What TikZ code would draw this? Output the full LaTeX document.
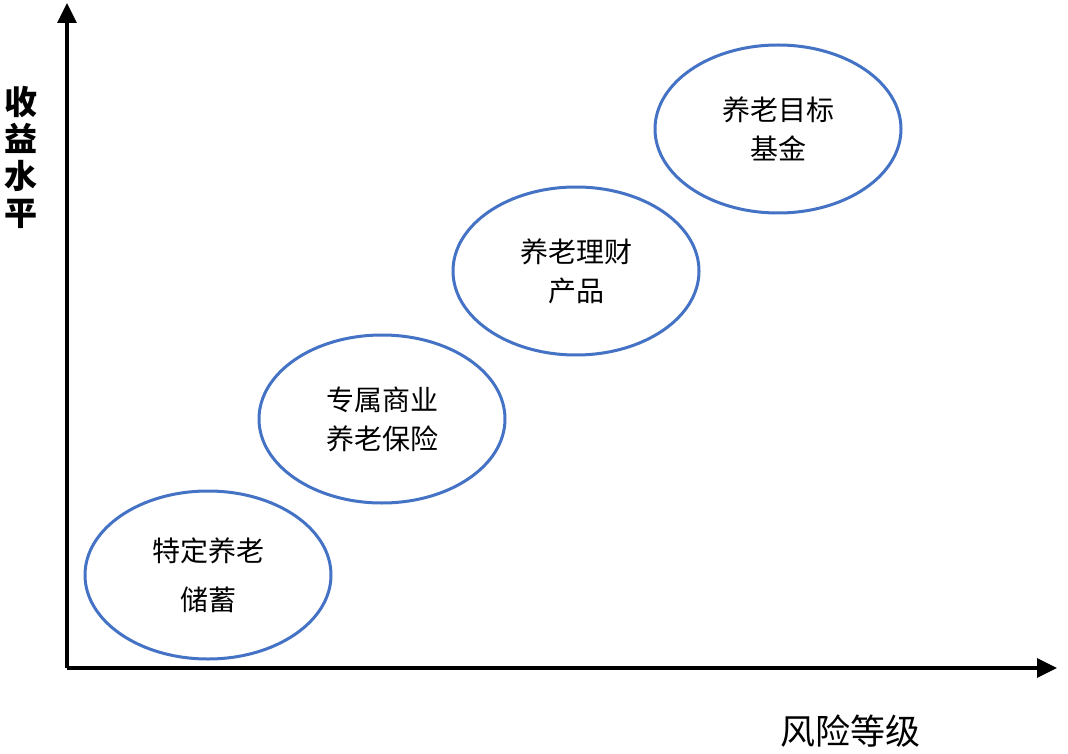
\documentclass[tikz,border=0pt]{standalone}
\usepackage{fontspec}
\setmainfont{Noto Sans CJK SC}
\usepackage{tikz}
\usetikzlibrary{arrows.meta,positioning,shapes.geometric}
\definecolor{rblue}{HTML}{4472C4}
\tikzset{
  >={Triangle[length=20pt,width=19pt]},
  raxis/.style={black, line width=3.2pt, ->},
  rprod/.style={ellipse, draw=rblue, line width=3pt, minimum width=246pt,
                minimum height=168pt, align=center, inner sep=0pt,
                font=\fontsize{28}{39}\selectfont},
  rlbl/.style={black, align=center, inner sep=0pt},
}

\begin{document}
\begin{tikzpicture}[x=1pt,y=-1pt]
  \useasboundingbox (0,0) rectangle (1068,754);

  % ---- axes ----
  \coordinate (origin) at (67,668);
  \coordinate (ytop) at (67,3);
  \coordinate (xend) at (1057,668);
  \draw[raxis] (origin) -- (ytop);
  \draw[raxis] (origin) -- (xend);

  % ---- axis labels ----
  \node[rlbl, font=\bfseries\fontsize{33}{37}\selectfont] (ylabel) at (21,157)
    {收\\益\\水\\平};
  \node[rlbl, font=\fontsize{35}{40}\selectfont] (xlabel) at (850,731)
    {风险等级};

  % ---- products ----
  \node[rprod] (saving) at (208,575) {特定养老\\[10pt]储蓄};
  \node[rprod] (insure) at (382,419) {专属商业\\养老保险};
  \node[rprod] (wealth) at (576,271) {养老理财\\产品};
  \node[rprod] (fund)   at (778,129) {养老目标\\基金};

\end{tikzpicture}
\end{document}
